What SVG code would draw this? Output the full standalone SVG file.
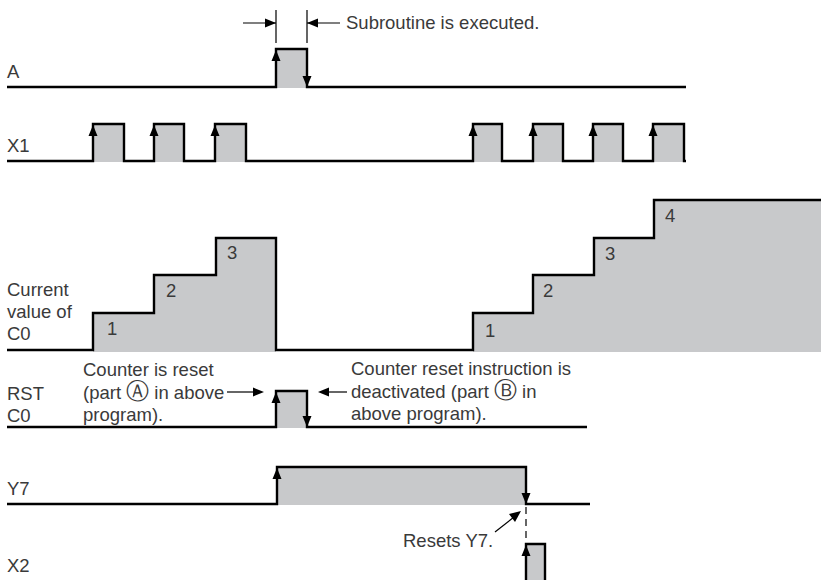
<svg xmlns="http://www.w3.org/2000/svg" xmlns:xlink="http://www.w3.org/1999/xlink" width="821" height="580" viewBox="0 0 821 580">
<style>
text{font-family:"Liberation Sans",Arial,"DejaVu Sans",sans-serif;font-size:18.5px;fill:#3a3a3a}
.fill{fill:#c8c9cb;stroke:none}
.sig{fill:none;stroke:#000;stroke-width:2.4;stroke-linejoin:miter}
.thin{fill:none;stroke:#000;stroke-width:1.2}
.ah{fill:#000}
.circ{font-family:"DejaVu Sans",sans-serif;font-size:23px}
</style>
<defs>
<path id="up" d="M0,0 L-4.5,11 L4.5,11 Z" class="ah"/>
<path id="dn" d="M0,0 L-4.5,-11 L4.5,-11 Z" class="ah"/>
<path id="rt" d="M0,0 L-11,-4.5 L-11,4.5 Z" class="ah"/>
<path id="lt" d="M0,0 L11,-4.5 L11,4.5 Z" class="ah"/>
</defs>
<rect width="821" height="580" fill="#fff"/>

<g id="labels">
<text x="7" y="78">A</text>
<text x="7" y="152">X1</text>
<text x="7" y="296">Current</text>
<text x="7" y="318">value of</text>
<text x="7" y="340">C0</text>
<text x="7" y="400">RST</text>
<text x="7" y="422">C0</text>
<text x="7" y="495">Y7</text>
<text x="7" y="572">X2</text>
</g>

<g id="sigA">
<rect class="fill" x="276" y="49" width="31" height="39"/>
<path class="sig" d="M7,87 H276 V49 H307 V87 H686"/>
<use xlink:href="#up" x="276" y="50"/>
<use xlink:href="#dn" x="307" y="87"/>
</g>

<g id="subroutine">
<path class="thin" d="M276,10 V43 M307,10 V43 M243,23 H276 M307,23 H340"/>
<use xlink:href="#rt" x="276" y="23"/>
<use xlink:href="#lt" x="307" y="23"/>
<text x="346" y="29">Subroutine is executed.</text>
</g>

<g id="sigX1">
<g class="fill">
<rect x="93" y="124" width="31" height="38"/>
<rect x="154" y="124" width="30" height="38"/>
<rect x="215" y="124" width="31" height="38"/>
<rect x="473" y="124" width="29" height="38"/>
<rect x="533" y="124" width="30" height="38"/>
<rect x="593" y="124" width="30" height="38"/>
<rect x="653" y="124" width="31" height="38"/>
</g>
<path class="sig" d="M7,161 H93 V124 H124 V161 H154 V124 H184 V161 H215 V124 H246 V161 H473 V124 H502 V161 H533 V124 H563 V161 H593 V124 H623 V161 H653 V124 H684 V161 H686"/>
<use xlink:href="#up" x="93" y="125"/>
<use xlink:href="#up" x="154" y="125"/>
<use xlink:href="#up" x="215" y="125"/>
<use xlink:href="#up" x="473" y="125"/>
<use xlink:href="#up" x="533" y="125"/>
<use xlink:href="#up" x="593" y="125"/>
<use xlink:href="#up" x="653" y="125"/>
</g>

<g id="sigC0">
<path class="fill" d="M93,352 V313 H154 V275 H216 V238 H276 V352 Z"/>
<path class="fill" d="M473,352 V313 H533 V275 H594 V238 H654 V200 H821 V352 Z"/>
<path class="sig" d="M7,350 H93 V313 H154 V275 H216 V238 H276 V350 H473 V313 H533 V275 H594 V238 H654 V200 H822"/>
<text x="107" y="335">1</text>
<text x="166" y="297">2</text>
<text x="227" y="259">3</text>
<text x="485" y="337">1</text>
<text x="543" y="297">2</text>
<text x="605" y="260">3</text>
<text x="665" y="222">4</text>
</g>

<g id="sigRST">
<rect class="fill" x="276" y="391" width="31" height="37"/>
<path class="sig" d="M7,427 H276 V391 H307 V427 H587"/>
<use xlink:href="#up" x="276" y="392"/>
<use xlink:href="#dn" x="307" y="427"/>
<text x="83" y="376">Counter is reset</text>
<text x="83" y="399">(part <tspan class="circ">Ⓐ</tspan> in above</text>
<text x="83" y="421">program).</text>
<path class="thin" d="M227,392 H256"/>
<use xlink:href="#rt" x="264" y="392"/>
<text x="351" y="375">Counter reset instruction is</text>
<text x="351" y="398">deactivated (part <tspan class="circ">Ⓑ</tspan> in</text>
<text x="351" y="420">above program).</text>
<path class="thin" d="M326,392 H347"/>
<use xlink:href="#lt" x="318" y="392"/>
</g>

<g id="sigY7">
<rect class="fill" x="277" y="467" width="249" height="38"/>
<path class="sig" d="M7,504 H277 V467 H526 V504 H590"/>
<use xlink:href="#up" x="277" y="468"/>
<use xlink:href="#dn" x="526" y="504"/>
</g>

<g id="sigX2">
<rect class="fill" x="526" y="544" width="19" height="36"/>
<path class="sig" d="M526,581 V544 H545 V581"/>
<use xlink:href="#up" x="526" y="545"/>
</g>

<g id="connectors">
<path class="thin" d="M526,507 V544" stroke-dasharray="7,5"/>
<path class="thin" d="M495,532 L514,517"/>
<path class="ah" d="M521,511 L509,514 L515,522 Z"/>
<text x="403" y="547">Resets Y7.</text>
</g>
</svg>
